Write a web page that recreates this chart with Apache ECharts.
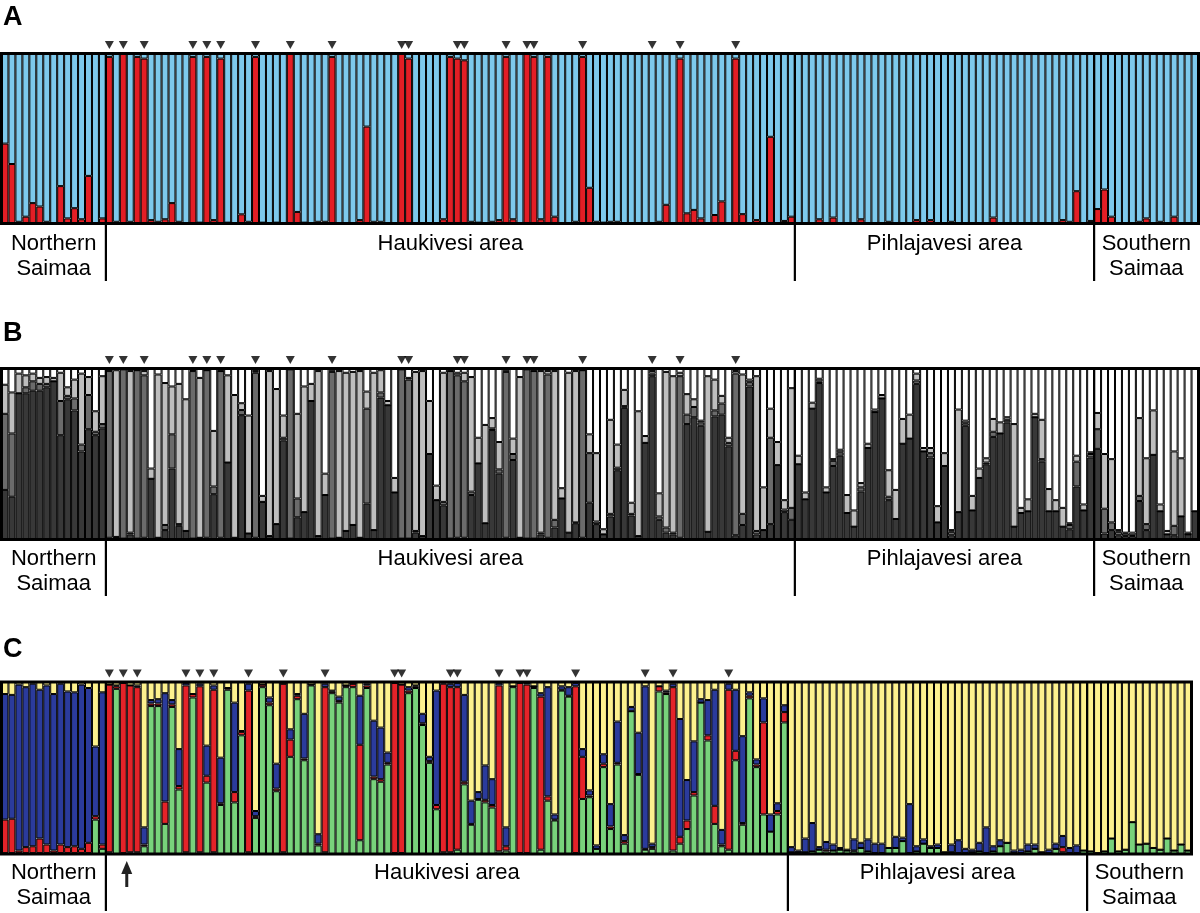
<!DOCTYPE html>
<html>
<head>
<meta charset="utf-8">
<script src="https://cdn.jsdelivr.net/npm/echarts@6/dist/echarts.min.js"></script>
<style>
html,body{margin:0;padding:0;background:#fff;}
#main{width:1200px;height:913px;}
</style>
</head>
<body>
<div id="main"></div>
<script>
// ---------- DATA ----------
const groupLabels = ['Northern\nSaimaa', 'Haukivesi area', 'Pihlajavesi area', 'Southern\nSaimaa'];
const groupSizesAB = [15, 99, 43, 15];
const groupSizesC = [15, 98, 43, 15];
const panelLetters = ['A', 'B', 'C'];
const markedAB = [15,17,20,27,29,31,36,41,47,57,58,65,66,72,75,76,83,93,97,105];
const markedC = [15,17,19,26,28,30,35,40,46,56,57,64,65,71,74,75,82,92,96,104];
const arrowAfterC = 17;

// Panel A (K=2)
const aRed = [
0.47,0.35,0.01,0.04,0.12,0.10,0.01,0,0.22,0.03,0.09,0.025,0.28,0,0.03,
0.98,0.01,1,0.01,0.98,0.97,0.02,0.01,0.025,0.12,
0.01,0,0.98,0.005,0.98,0.02,0.97,0.005,0,0.054,
0.01,0.98,0.005,0,0.005,0,1,0.068,0.005,0,
0.01,0.01,0.98,0,0,0,0.02,0.57,0.01,0.01,
0,0,1,0.97,0,0,0,0,0.025,0.98,
0.97,0.96,0.01,0.005,0,0.01,0.02,0.98,0.025,0,
1,0.98,0.025,0.98,0.04,0,0,0.01,0.98,0.21,
0.01,0.005,0.01,0.01,0,0,0,0,0,0.01,
0.11,0,0.97,0.06,0.08,0.03,0,0.05,0.13,0,
0.97,0.055,0,0.02,0,0.51,0,0.015,0.04,
0,0,0,0.025,0,0.035,0,0,0,0.025,
0,0,0,0.01,0,0,0,0.02,0,0.02,
0,0,0.01,0,0,0,0,0,0.035,0,
0,0,0,0,0,0,0,0,0.02,0.01,
0.19,0,0.015,
0.085,0.2,0.04,0,0,0,0.01,0.03,0,0.01,0,0.04,0,0,0
];
const aBlue = [
0.53,0.65,0.99,0.96,0.88,0.90,0.99,1,0.78,0.97,0.91,0.975,0.72,1,0.97,
0.02,0.99,0,0.99,0.02,0.03,0.98,0.99,0.975,0.88,
0.99,1,0.02,0.995,0.02,0.98,0.03,0.995,1,0.946,
0.99,0.02,0.995,1,0.995,1,0,0.932,0.995,1,
0.99,0.99,0.02,1,1,1,0.98,0.43,0.99,0.99,
1,1,0,0.03,1,1,1,1,0.975,0.02,
0.03,0.04,0.99,0.995,1,0.99,0.98,0.02,0.975,1,
0,0.02,0.975,0.02,0.96,1,1,0.99,0.02,0.79,
0.99,0.995,0.99,0.99,1,1,1,1,1,0.99,
0.89,1,0.03,0.94,0.92,0.97,1,0.95,0.87,1,
0.03,0.945,1,0.98,1,0.49,1,0.985,0.96,
1,1,1,0.975,1,0.965,1,1,1,0.975,
1,1,1,0.99,1,1,1,0.98,1,0.98,
1,1,0.99,1,1,1,1,1,0.965,1,
1,1,1,1,1,1,1,1,0.98,0.99,
0.81,1,0.985,
0.915,0.8,0.96,1,1,1,0.99,0.97,1,0.99,1,0.96,1,1,1
];

// Panel B (K=4, greys)
const bDark = [
.29,.25,.855,.855,.87,.87,.89,.925,.61,.82,
.755,.515,.645,.61,.65,.01,.015,.005,.03,.005,
.01,.355,.01,.055,.415,.08,.05,.005,.01,.01,
.265,.01,.45,.01,.727,.035,.01,.22,.02,.09,
.58,.005,.13,.16,.81,.02,.26,.005,.01,.05,
.085,.01,.21,.055,.83,.785,.275,.005,.005,.04,
.02,.5,.23,.2,.005,.01,.01,.26,.445,.095,
.64,.385,.01,.465,.01,.005,.005,.03,.01,.07,
.24,.04,.095,.01,.215,.09,.03,.135,.405,.77,
.14,.02,.565,.955,.115,.04,.03,.01,.675,.715,
.665,.045,.72,.73,.545,.025,.085,.895,.03,.055,
.09,.435,.16,.115,.44,.235,.765,.915,.275,.43,
.49,.155,.075,.28,.535,.745,.825,.23,.12,.56,
.59,.91,.515,.48,.1,.43,.025,.16,.665,.17,
.36,.44,.6,.62,.685,.075,.155,.165,.715,.455,
.165,.165,.075,.06,.31,.17,.48,.53,.035,.055,
.025,.02,.02,.225,.055,.495,.165,.03,.025,.135,
.03,.165
];
const bMid = [
.445,.37,0,.035,.055,.04,.02,0,.2,.02,
.07,.04,.2,.02,.025,.975,0,.99,.01,.985,
.95,0,0,.03,.2,.01,0,.98,0,.98,
.045,.975,0,0,.03,0,.965,0,0,0,
.015,.99,.11,0,0,0,0,.975,0,0,
0,0,.555,0,.03,0,0,.99,.93,.01,
0,0,0,.02,.98,.95,.915,.02,0,0,
.01,.025,.97,.035,0,.99,.98,.01,.955,.045,
0,0,.005,.98,.29,.015,0,.015,.015,.01,
.01,0,0,.015,.02,.03,.01,.945,.055,.06,
.02,0,.035,.065,.02,.945,.065,.025,.02,0,
.505,0,.015,.07,0,0,0,.01,0,.03,
.02,0,0,.025,0,0,0,.02,0,0,
0,.02,0,.025,0,0,.02,0,.015,0,
0,.01,.03,0,.015,0,0,0,0,.015,
0,0,0,.025,.145,0,.02,.115,.145,.045,
.02,.015,.005,.03,.035,0,0,0,.055,0,
0,0
];
const bLight = [
.17,.24,.115,.07,.045,.035,.04,.02,.165,.05,
.11,.415,.105,.12,.28,.01,.975,0,.945,0,
.025,.06,.955,.83,.28,.82,.77,.005,.935,0,
.325,0,.51,.835,.04,.69,.01,.035,.965,.79,
.13,0,.495,.735,.1,.965,.125,.01,.975,.925,
.895,.975,.1,.92,.13,.025,.085,0,.01,.93,
.965,.31,.085,.755,0,.015,.05,.67,.15,.575,
.06,.16,.01,.09,.94,0,0,.945,.02,.87,
.06,.935,.885,0,.11,.4,.03,.55,.135,.095,
.065,.73,.04,.015,.135,.91,.915,.02,.12,.045,
.01,.91,.18,.045,.03,.015,.815,.015,.905,.25,
.17,.135,.055,.7,.05,.04,.035,.015,.03,.01,
.015,.105,.095,.025,.025,.015,.02,.155,.17,.145,
.14,.04,.02,.03,.095,.075,.01,.6,.015,.085,
.055,.025,.075,.065,.015,.6,.03,.07,.02,.23,
.13,.065,.11,.01,.035,.035,.01,.095,.32,.37,
.01,.005,.015,.455,.385,.26,.04,.02,.435,.34,
.01,0
];
const bWhite = [
.095,.14,.03,.04,.03,.055,.05,.055,.025,.11,
.065,.03,.05,.25,.045,.005,.01,.005,.015,.01,
.015,.585,.035,.085,.105,.09,.18,.01,.055,.01,
.365,.015,.04,.155,.203,.275,.015,.745,.015,.12,
.275,.005,.265,.105,.09,.015,.615,.01,.015,.025,
.02,.015,.135,.025,.01,.19,.64,.005,.055,.02,
.015,.19,.685,.025,.015,.025,.025,.05,.405,.33,
.29,.43,.01,.41,.05,.005,.015,.015,.015,.015,
.7,.025,.015,.01,.385,.495,.94,.3,.445,.125,
.785,.25,.395,.015,.73,.02,.045,.025,.15,.18,
.305,.045,.065,.16,.405,.015,.035,.065,.045,.695,
.235,.43,.77,.115,.51,.725,.2,.06,.695,.53,
.475,.74,.83,.67,.44,.24,.155,.595,.71,.295,
.27,.03,.465,.465,.805,.495,.945,.24,.305,.745,
.585,.525,.295,.315,.285,.325,.815,.765,.265,.3,
.705,.77,.815,.905,.51,.795,.49,.26,.5,.53,
.945,.96,.96,.29,.525,.245,.795,.95,.485,.525,
.96,.835
];

// Panel C (K=4, colours)
const cGreen = [
.005,.005,.005,.005,.005,.005,.005,.005,.005,.005,
.005,.005,.005,.2,.03,.01,.96,.005,.01,.01,
.045,.86,.86,.175,.855,.375,.01,.91,.01,.415,
.01,.285,.955,.3,.69,.01,.21,.97,.865,.365,
.01,.565,.9,.545,.98,.05,.01,.935,.88,.97,
.97,.08,.965,.435,.42,.52,.005,.005,.935,.965,
.75,.53,.26,.01,.01,.025,.405,.17,.315,.3,
.27,.015,.02,.97,.005,.005,.965,.025,.31,.195,
.95,.915,.005,.32,.33,.03,.505,.145,.52,.06,
.83,.46,.025,.03,.945,.93,.02,.06,.145,.34,
.88,.66,.175,.045,.025,.545,.17,.905,.505,.23,
.13,.23,.765,.01,.01,.01,.015,.025,.015,.02,
.025,.02,.015,.035,.015,.005,.005,.035,.035,.075,
.005,.015,.06,.035,.035,.01,.01,.005,.005,.01,
.015,.005,.015,.045,.065,.005,.005,.015,.03,.01,
.005,.03,.01,.005,.005,.02,.015,.005,.015,.09,
.015,.025,.185,.055,.06,.035,.025,.09,.02,.055,
.02
];
const cRed = [
.195,.2,.015,.035,.04,.085,.05,.015,.05,.035,
.04,.025,.06,.02,.025,.975,.015,.99,.97,.96,
.01,.015,.015,.13,.015,.02,.97,.02,.965,.04,
.945,.01,.01,.06,.02,.94,.01,.015,.015,.015,
.98,.1,.02,.01,.005,.01,.96,.01,.01,.01,
.02,.555,.015,.015,.015,.01,.99,.98,.015,.01,
.01,.01,.025,.98,.96,.945,.015,.005,.005,.015,
.015,.965,.025,.005,.99,.98,.01,.89,.025,.005,
.005,.005,.97,.245,.01,0,.02,.015,.01,.015,
0,.005,.005,.01,.03,.01,.95,.04,.05,.02,
0,.03,.105,.01,.93,.055,.01,.015,.015,.535,
0,.02,.06,0,0,0,0,0,.01,0,
0,0,.005,0,0,0,0,0,0,0,
0,0,0,0,0,0,0,0,0,0,
0,0,0,0,0,0,0,0,0,0,
0,0,.03,0,0,0,0,0,0,0,
0,0,0,0,0,0,0,0,0,0,
0
];
const cBlue = [
.73,.72,.965,.93,.945,.865,.925,.91,.935,.905,
.895,.955,.9,.405,.885,0,.005,0,0,.01,
.1,.02,.025,.63,.025,.215,.015,0,.015,.175,
.025,.265,0,.52,.005,.04,.03,0,.03,.145,
0,.06,.01,.26,0,.055,.02,.005,.025,0,
0,.285,.01,.325,.3,.06,0,0,.02,.005,
.055,.025,.665,.01,.02,.025,.505,.135,.04,.2,
.15,.015,.11,0,0,.01,0,.02,.635,.03,
.02,.05,.02,.045,.03,.02,.055,.13,.24,.035,
.025,.24,.945,.02,0,.01,.02,.685,.235,.295,
.02,.205,.675,.085,.035,.355,.505,.02,.03,.14,
.1,.045,.04,.03,.01,.08,.165,.015,.045,.035,
.01,.005,.065,.03,.07,.055,.055,0,.065,.02,
.285,.03,.025,.01,.02,0,.045,.075,.025,.015,
.05,.15,.03,.035,0,.015,.02,.04,.025,0,
.02,.03,.065,.03,.045,0,0,0,0,0,
0,0,0,0,0,0,0,0,0,0,
0
];
const cYellow = [
.07,.075,.015,.03,.01,.045,.02,.07,.01,.055,
.06,.015,.035,.375,.06,.015,.02,.005,.02,.02,
.845,.105,.1,.065,.105,.39,.005,.07,.01,.37,
.02,.44,.035,.12,.285,.01,.75,.015,.09,.475,
.01,.275,.07,.185,.015,.885,.01,.05,.085,.02,
.01,.08,.01,.225,.265,.41,.005,.015,.03,.02,
.185,.435,.05,0,.01,.005,.075,.69,.64,.485,
.565,.005,.845,.025,.005,.005,.025,.065,.03,.77,
.025,.03,.005,.39,.63,.95,.42,.71,.23,.89,
.145,.295,.025,.94,.025,.05,.01,.215,.57,.345,
.1,.105,.045,.86,.01,.045,.315,.06,.45,.095,
.77,.705,.135,.96,.98,.91,.82,.96,.93,.945,
.965,.975,.915,.935,.915,.94,.94,.965,.9,.905,
.71,.955,.915,.955,.945,.99,.945,.92,.97,.975,
.935,.845,.955,.92,.935,.98,.975,.945,.945,.99,
.975,.94,.895,.965,.95,.98,.985,.995,.985,.91,
.985,.975,.815,.945,.94,.965,.975,.91,.98,.945,
.98
];

// ---------- CHART ----------
const catsAB = aRed.map((_, i) => 'ind' + (i + 1));
const catsC = cGreen.map((_, i) => 'ind' + (i + 1));

const FONT = '"Liberation Sans", Arial, sans-serif';
const grids = [
  {left: 1.5, top: 53.5, width: 1197, height: 170},
  {left: 1.5, top: 368.5, width: 1197, height: 171},
  {left: 1.5, top: 682, width: 1190, height: 172}
];
const labelY = [244, 559, 873];
const lineEnd = [281, 596, 911];
const letterY = [18, 334, 650];

function barSeries(name, data, color, idx) {
  return {
    type: 'bar', name: name, data: data, stack: 'p' + idx,
    xAxisIndex: idx, yAxisIndex: idx,
    barCategoryGap: '0%', barGap: '0%',
    itemStyle: {color: color, borderColor: '#000', borderWidth: 1},
    silent: true, animation: false
  };
}
function triSeries(marks, idx) {
  return {
    type: 'scatter', xAxisIndex: idx, yAxisIndex: idx,
    data: marks.map(i => [i, 1.05]),
    symbol: 'triangle', symbolRotate: 180, symbolSize: [9, 8],
    itemStyle: {color: '#000'}, clip: false, silent: true, animation: false, z: 10
  };
}

const chart = echarts.init(document.getElementById('main'));
chart.setOption({
  animation: false,
  backgroundColor: '#fff',
  grid: grids,
  xAxis: [0, 1, 2].map(i => ({type: 'category', gridIndex: i, data: i < 2 ? catsAB : catsC, show: false})),
  yAxis: [0, 1, 2].map(i => ({type: 'value', gridIndex: i, min: 0, max: 1, show: false})),
  series: [
    barSeries('A1', aRed, '#e31e25', 0),
    barSeries('A2', aBlue, '#7dc9ec', 0),
    barSeries('B1', bDark, '#383838', 1),
    barSeries('B2', bMid, '#6b6b6b', 1),
    barSeries('B3', bLight, '#bebebe', 1),
    barSeries('B4', bWhite, '#ffffff', 1),
    barSeries('C1', cGreen, '#78d27b', 2),
    barSeries('C2', cRed, '#e42329', 2),
    barSeries('C3', cBlue, '#2b3b9c', 2),
    barSeries('C4', cYellow, '#fdf18e', 2),
    triSeries(markedAB, 0),
    triSeries(markedAB, 1),
    triSeries(markedC, 2)
  ]
});

// Decorations placed through the axes' own scales
const graphics = [];
[0, 1, 2].forEach(p => {
  const g = grids[p];
  const sizes = p < 2 ? groupSizesAB : groupSizesC;
  const px = k => chart.convertToPixel({xAxisIndex: p}, k);
  const half = (px(1) - px(0)) / 2;
  graphics.push({type: 'rect', z: 100, silent: true,
    shape: {x: g.left, y: g.top, width: g.width, height: g.height},
    style: {fill: 'none', stroke: '#000', lineWidth: 3}});
  graphics.push({type: 'text', z: 100, silent: true, x: 3, y: letterY[p],
    style: {text: panelLetters[p], font: 'bold 27px ' + FONT, fill: '#000', verticalAlign: 'middle', align: 'left'}});
  let start = 0;
  sizes.forEach((n, gi) => {
    const x0 = px(start) - half;
    const x1 = px(start + n - 1) + half;
    if (gi > 0) {
      graphics.push({type: 'line', z: 100, silent: true,
        shape: {x1: x0, y1: g.top, x2: x0, y2: lineEnd[p]},
        style: {stroke: '#000', lineWidth: 2.2}});
    }
    graphics.push({type: 'text', z: 100, silent: true, x: (x0 + x1) / 2, y: labelY[p] - 13,
      style: {text: groupLabels[gi], font: '22px ' + FONT, fill: '#000', align: 'center', verticalAlign: 'top', lineHeight: 25}});
    start += n;
  });
});
{
  const ax = (chart.convertToPixel({xAxisIndex: 2}, arrowAfterC) + chart.convertToPixel({xAxisIndex: 2}, arrowAfterC + 1)) / 2;
  graphics.push({type: 'polygon', z: 100, silent: true,
    shape: {points: [[ax, 861], [ax - 5.5, 874], [ax + 5.5, 874]]}, style: {fill: '#222'}});
  graphics.push({type: 'rect', z: 100, silent: true,
    shape: {x: ax - 1.5, y: 870, width: 3, height: 17}, style: {fill: '#222'}});
}
chart.setOption({graphic: graphics});
</script>
</body>
</html>
